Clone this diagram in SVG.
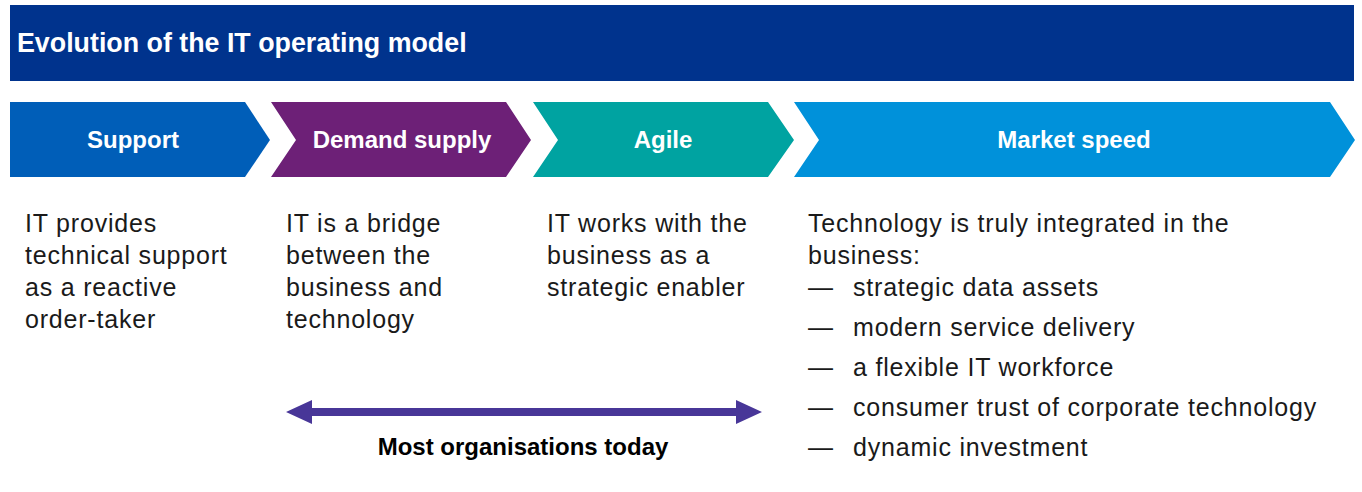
<svg xmlns="http://www.w3.org/2000/svg" width="1362" height="492" viewBox="0 0 1362 492">
<style>
.title{font-family:"Liberation Sans",Arial,sans-serif;font-weight:bold;font-size:26.8px;fill:#ffffff}
.lbl{font-family:"Liberation Sans",Arial,sans-serif;font-weight:bold;font-size:24px;fill:#ffffff;text-anchor:middle}
.body{font-family:"Liberation Sans",Arial,sans-serif;font-size:25px;letter-spacing:0.8px;fill:#1a1a1a}
.bold{font-family:"Liberation Sans",Arial,sans-serif;font-weight:bold;font-size:24px;fill:#000000;text-anchor:middle}
</style>
<rect width="1362" height="492" fill="#ffffff"/>
<g id="header">
<rect x="10" y="5" width="1344" height="76" fill="#00338D"/>
<text class="title" x="17" y="52">Evolution of the IT operating model</text>
</g>
<g id="support">
<polygon points="10,102 245,102 270,140 245,177 10,177" fill="#005EB8"/>
<text class="lbl" x="133" y="148">Support</text>
<text class="body"><tspan x="25" y="232">IT provides</tspan><tspan x="25" y="264">technical support</tspan><tspan x="25" y="296">as a reactive</tspan><tspan x="25" y="328">order-taker</tspan></text>
</g>
<g id="demand-supply">
<polygon points="271,102 506,102 531,140 506,177 271,177 296,140" fill="#6D2077"/>
<text class="lbl" x="402" y="148">Demand supply</text>
<text class="body"><tspan x="286" y="232">IT is a bridge</tspan><tspan x="286" y="264">between the</tspan><tspan x="286" y="296">business and</tspan><tspan x="286" y="328">technology</tspan></text>
</g>
<g id="agile">
<polygon points="533,102 768,102 794,140 768,177 533,177 558,140" fill="#00A3A1"/>
<text class="lbl" x="663" y="148">Agile</text>
<text class="body"><tspan x="547" y="232">IT works with the</tspan><tspan x="547" y="264">business as a</tspan><tspan x="547" y="296">strategic enabler</tspan></text>
</g>
<g id="market-speed">
<polygon points="794,102 1330,102 1355,140 1330,177 794,177 819,140" fill="#0091DA"/>
<text class="lbl" x="1074" y="148">Market speed</text>
<text class="body"><tspan x="808" y="232">Technology is truly integrated in the</tspan><tspan x="808" y="264">business:</tspan></text>
<text class="body"><tspan x="808" y="296">—</tspan><tspan x="853" y="296">strategic data assets</tspan></text>
<text class="body"><tspan x="808" y="336">—</tspan><tspan x="853" y="336">modern service delivery</tspan></text>
<text class="body"><tspan x="808" y="376">—</tspan><tspan x="853" y="376">a flexible IT workforce</tspan></text>
<text class="body"><tspan x="808" y="416">—</tspan><tspan x="853" y="416">consumer trust of corporate technology</tspan></text>
<text class="body"><tspan x="808" y="456">—</tspan><tspan x="853" y="456">dynamic investment</tspan></text>
</g>
<g id="connectors">
<polygon points="286,412 312,400 312,408 736,408 736,400 762,412 736,424 736,416 312,416 312,424" fill="#483698"/>
</g>
<g id="most-organisations">
<text class="bold" x="523" y="455">Most organisations today</text>
</g>
</svg>
